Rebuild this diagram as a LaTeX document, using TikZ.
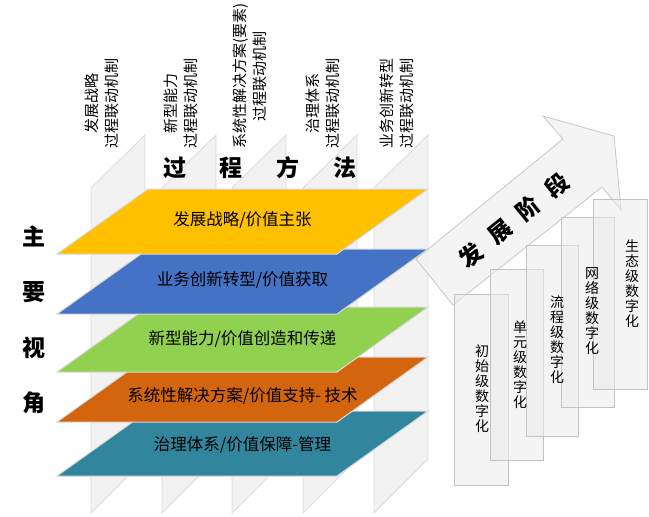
\documentclass[tikz,border=0pt]{standalone}
\usepackage{fontspec}
\setmainfont{Noto Sans CJK SC}
\definecolor{layeryellow}{RGB}{255,192,0}
\definecolor{layerblue}{RGB}{68,114,196}
\definecolor{layergreen}{RGB}{146,208,80}
\definecolor{layerorange}{RGB}{210,101,14}
\definecolor{layerteal}{RGB}{49,133,156}
\tikzset{
	panel/.style={fill=black!5, draw=black!14, line width=0.8pt},
	layer/.style={draw=black!15, line width=1pt},
	stairbox/.style={fill=black!8, fill opacity=0.55, draw=black!24, line width=0.8pt},
	stagearrow/.style={fill=black!5, fill opacity=0.88, draw=black!22, line width=0.8pt},
	layertext/.style={font=\fontsize{16.5}{18}\selectfont, inner sep=0pt},
	toplabel/.style={font=\fontsize{15}{20}\selectfont, align=center, inner sep=0pt, rotate=90, anchor=west},
	stagetext/.style={font=\fontsize{14}{15}\selectfont, align=center, inner sep=0pt},
	bigtext/.style={font=\fontsize{23}{55.5}\selectfont\bfseries, align=center, inner sep=0pt}
}
\def\panel(#1){\draw[panel] (#1,188) -- (#1+54,135) -- (#1+54,459) -- (#1,513) -- cycle;}
\def\layer[#1](#2){\draw[layer, fill=#1] (57,#2+65) -- (148,#2) -- (428,#2) -- (337,#2+65) -- cycle;}

\begin{document}
\begin{tikzpicture}[x=1pt, y=-1pt]
			%%%%% START %%%%%
			\useasboundingbox (0,0) rectangle (649,517);
			
			\panel(91)
			\panel(162)
			\panel(232)
			\panel(303)
			\panel(374)
			
			\layer[layerteal](411)
			\layer[layerorange](357)
			\layer[layergreen](307)
			\layer[layerblue](249)
			\layer[layeryellow](189)
			
			\node[layertext] (strategy) at (242.5, 220) {发展战略/价值主张};
			\node[layertext] (business) at (242.5, 280) {业务创新转型/价值获取};
			\node[layertext] (capability) at (242.5, 339) {新型能力/价值创造和传递};
			\node[layertext] (solution) at (242.5, 396) {系统性解决方案/价值支持- 技术};
			\node[layertext] (governance) at (242.5, 445) {治理体系/价值保障-管理};
			
			\node[toplabel] (strategymech) at (102, 149) {发展战略\\过程联动机制};
			\node[toplabel] (capabilitymech) at (181, 149) {新型能力\\过程联动机制};
			\node[toplabel] (solutionmech) at (250, 149) {系统性解决方案(要素)\\过程联动机制};
			\node[toplabel] (governancemech) at (322.5, 149) {治理体系\\过程联动机制};
			\node[toplabel] (businessmech) at (397, 149) {业务创新转型\\过程联动机制};
			
			\node[bigtext] (method) at (260, 168) {过\hspace{34pt}程\hspace{34pt}方\hspace{34pt}法};
			\node[bigtext] (view) at (34, 320) {主\\要\\视\\角};
			
			\draw[stagearrow] (416, 259) -- (563, 139) -- (543, 116) -- (614, 136) -- (621, 210) -- (602, 187) -- (453, 305) -- cycle;
			\node[bigtext, rotate=39] (stage) at (514, 220) {发\hspace{14pt}展\hspace{14pt}阶\hspace{14pt}段};
			
			\draw[stairbox] (454, 294) rectangle (508, 485);
			\draw[stairbox] (490, 269) rectangle (543, 460);
			\draw[stairbox] (526, 245) rectangle (578, 436);
			\draw[stairbox] (561, 217) rectangle (614, 407);
			\draw[stairbox] (593, 199) rectangle (647, 389);
			
			\node[stagetext] (initial) at (482, 389) {初\\始\\级\\数\\字\\化};
			\node[stagetext] (unit) at (520, 365) {单\\元\\级\\数\\字\\化};
			\node[stagetext] (process) at (557, 340) {流\\程\\级\\数\\字\\化};
			\node[stagetext] (network) at (592, 311.5) {网\\络\\级\\数\\字\\化};
			\node[stagetext] (ecosystem) at (632, 283.5) {生\\态\\级\\数\\字\\化};
			
			%%%%% END %%%%%
\end{tikzpicture}
\end{document}
